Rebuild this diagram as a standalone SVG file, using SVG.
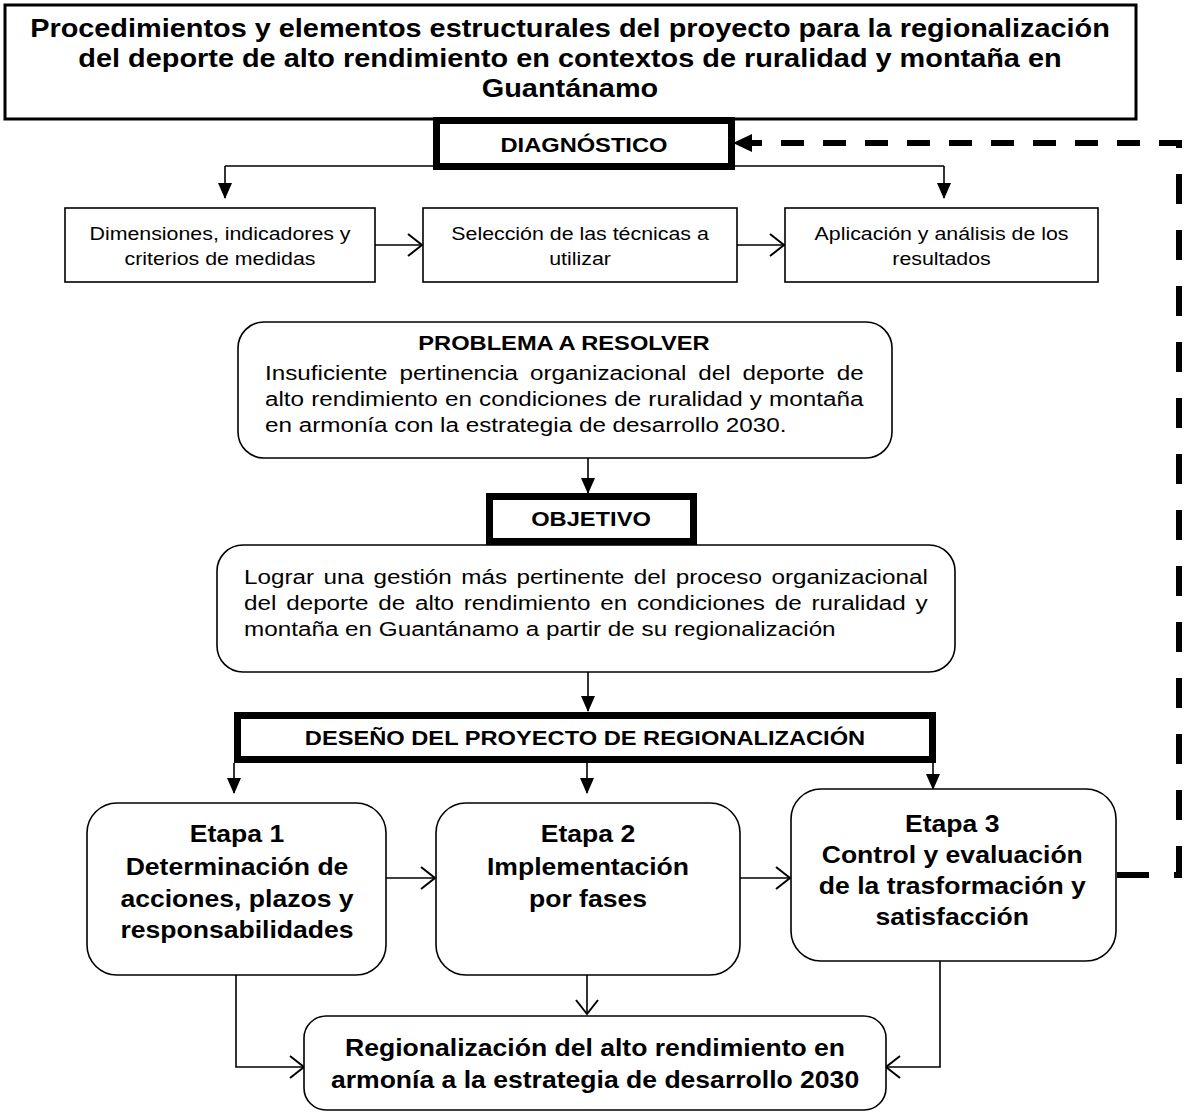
<svg xmlns="http://www.w3.org/2000/svg" width="1184" height="1113" viewBox="0 0 1184 1113">
<style>
text{font-family:"Liberation Sans",Arial,sans-serif;fill:#000}
.tt{font-size:25px;font-weight:bold;text-anchor:middle}
.hd{font-size:20.5px;font-weight:bold;text-anchor:middle}
.sm{font-size:18.5px;text-anchor:middle}
.bd{font-size:21px}
.et{font-size:23px;font-weight:bold;text-anchor:middle}
.box{fill:#fff;stroke:#000;stroke-width:1.6}
.thick{fill:#fff;stroke:#000;stroke-width:7}
.ln{fill:none;stroke:#000;stroke-width:1.6}
.dash{fill:none;stroke:#000;stroke-width:6}
</style>
<defs>
<marker id="fa" markerUnits="userSpaceOnUse" markerWidth="16" markerHeight="14" viewBox="0 0 16 14" refX="15" refY="7" orient="auto">
<path d="M0,0 L16,7 L0,14 Z" fill="#000"/>
</marker>
<marker id="oa" markerUnits="userSpaceOnUse" markerWidth="18" markerHeight="26" viewBox="0 0 18 26" refX="16" refY="13" orient="auto">
<path d="M2,2 L16,13 L2,24" fill="none" stroke="#000" stroke-width="2"/>
</marker>
</defs>

<g id="connectors">
<path class="ln" d="M225,166 H944"/>
<path class="ln" d="M225,166 V198" marker-end="url(#fa)"/>
<path class="ln" d="M944,166 V198" marker-end="url(#fa)"/>
<path class="ln" d="M375,245 H422" marker-end="url(#oa)"/>
<path class="ln" d="M737,245 H784" marker-end="url(#oa)"/>
<path class="ln" d="M588,458 V493" marker-end="url(#fa)"/>
<path class="ln" d="M588,672 V711" marker-end="url(#fa)"/>
<path class="ln" d="M234,763 V793" marker-end="url(#fa)"/>
<path class="ln" d="M587,763 V793" marker-end="url(#fa)"/>
<path class="ln" d="M933,763 V789" marker-end="url(#fa)"/>
<path class="ln" d="M386,878 H435" marker-end="url(#oa)"/>
<path class="ln" d="M740,878 H790" marker-end="url(#oa)"/>
<path class="ln" d="M236,975 V1067 H304" marker-end="url(#oa)"/>
<path class="ln" d="M587,975 V1014" marker-end="url(#oa)"/>
<path class="ln" d="M940,961 V1067 H886" marker-end="url(#oa)"/>
<path class="dash" d="M1182,143 H735" stroke-dasharray="23 19"/>
<polygon points="733,143 752,134 752,152" fill="#000"/>
<path class="dash" d="M1179,140 V878" stroke-dasharray="30 26" stroke-dashoffset="22"/>
<path class="dash" d="M1182,875 H1117" stroke-dasharray="8 25 40"/>
</g>

<g id="title">
<rect x="5" y="5" width="1131" height="114" fill="#fff" stroke="#000" stroke-width="3"/>
<g transform="scale(1.155 1)">
<text class="tt" x="493.5" y="37">Procedimientos y elementos estructurales del proyecto para la regionalización</text>
<text class="tt" x="493.5" y="67">del deporte de alto rendimiento en contextos de ruralidad y montaña en</text>
<text class="tt" x="493.5" y="97">Guantánamo</text>
</g>
</g>

<g id="diagnostico">
<rect class="thick" x="436.5" y="120.5" width="295" height="46"/>
<g transform="scale(1.155 1)"><text class="hd" x="505.6" y="152">DIAGNÓSTICO</text></g>
</g>

<g id="dimensiones">
<rect class="box" x="65" y="208" width="310" height="74"/>
<g transform="scale(1.155 1)">
<text class="sm" x="190.5" y="240">Dimensiones, indicadores y</text>
<text class="sm" x="190.5" y="265">criterios de medidas</text>
</g>
</g>

<g id="seleccion">
<rect class="box" x="423" y="208" width="314" height="74"/>
<g transform="scale(1.155 1)">
<text class="sm" x="502.2" y="240">Selección de las técnicas a</text>
<text class="sm" x="502.2" y="265">utilizar</text>
</g>
</g>

<g id="aplicacion">
<rect class="box" x="785" y="208" width="313" height="74"/>
<g transform="scale(1.155 1)">
<text class="sm" x="815.2" y="240">Aplicación y análisis de los</text>
<text class="sm" x="815.2" y="265">resultados</text>
</g>
</g>

<g id="problema">
<rect class="box" x="238" y="322" width="654" height="136" rx="26"/>
<g transform="scale(1.155 1)">
<text class="hd" x="488.3" y="350">PROBLEMA A RESOLVER</text>
<text class="bd" x="229.4" y="380" word-spacing="4.5">Insuficiente pertinencia organizacional del deporte de</text>
<text class="bd" x="229.4" y="406" word-spacing="0.35">alto rendimiento en condiciones de ruralidad y montaña</text>
<text class="bd" x="229.4" y="432">en armonía con la estrategia de desarrollo 2030.</text>
</g>
</g>

<g id="objetivo">
<rect class="thick" x="489.5" y="496.5" width="204" height="45"/>
<g transform="scale(1.155 1)"><text class="hd" x="511.7" y="526">OBJETIVO</text></g>
</g>

<g id="objetivo-texto">
<rect class="box" x="217" y="545" width="738" height="127" rx="26"/>
<g transform="scale(1.155 1)">
<text class="bd" x="211.3" y="584" word-spacing="2.4">Lograr una gestión más pertinente del proceso organizacional</text>
<text class="bd" x="211.3" y="610" word-spacing="2.64">del deporte de alto rendimiento en condiciones de ruralidad y</text>
<text class="bd" x="211.3" y="636">montaña en Guantánamo a partir de su regionalización</text>
</g>
</g>

<g id="diseno">
<rect class="thick" x="237.5" y="715.5" width="695" height="44"/>
<g transform="scale(1.155 1)"><text class="hd" x="506.5" y="745">DESEÑO DEL PROYECTO DE REGIONALIZACIÓN</text></g>
</g>

<g id="etapa1">
<rect class="box" x="87" y="803" width="299" height="172" rx="30"/>
<g transform="scale(1.155 1)">
<text class="et" x="205.2" y="842">Etapa 1</text>
<text class="et" x="205.2" y="875">Determinación de</text>
<text class="et" x="205.2" y="907">acciones, plazos y</text>
<text class="et" x="205.2" y="938">responsabilidades</text>
</g>
</g>

<g id="etapa2">
<rect class="box" x="436" y="803" width="304" height="172" rx="30"/>
<g transform="scale(1.155 1)">
<text class="et" x="509.1" y="842">Etapa 2</text>
<text class="et" x="509.1" y="875">Implementación</text>
<text class="et" x="509.1" y="907">por fases</text>
</g>
</g>

<g id="etapa3">
<rect class="box" x="791" y="789" width="325" height="172" rx="30"/>
<g transform="scale(1.155 1)">
<text class="et" x="824.5" y="832">Etapa 3</text>
<text class="et" x="824.5" y="863">Control y evaluación</text>
<text class="et" x="824.5" y="894">de la trasformación y</text>
<text class="et" x="824.5" y="925">satisfacción</text>
</g>
</g>

<g id="regionalizacion">
<rect class="box" x="304" y="1016" width="582" height="94" rx="22"/>
<g transform="scale(1.155 1)">
<text class="et" x="515.2" y="1056">Regionalización del alto rendimiento en</text>
<text class="et" x="515.2" y="1088">armonía a la estrategia de desarrollo 2030</text>
</g>
</g>
</svg>
